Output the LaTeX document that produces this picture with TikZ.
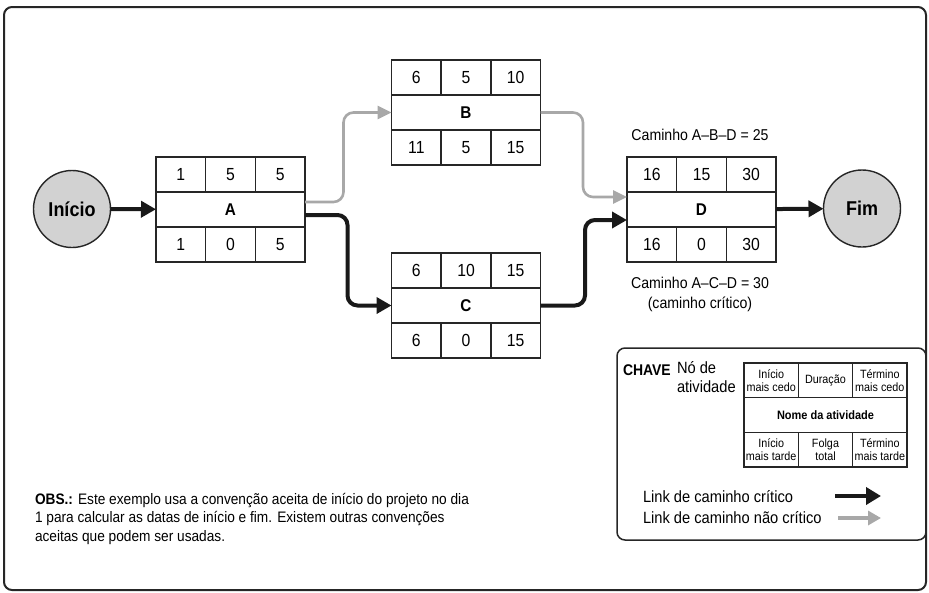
\documentclass[tikz,border=0pt]{standalone}
\usepackage{fontspec}
\setmainfont{Liberation Sans}[FakeStretch=0.9]
\usetikzlibrary{arrows.meta,calc}
\definecolor{linkgray}{HTML}{A8A8A8}
\definecolor{circfill}{HTML}{D2D2D2}
\tikzset{
  every node/.style={outer sep=0pt},
  frame/.style={draw=black!85, line width=2pt, rounded corners=8pt},
  namebox/.style={draw=black!85, line width=1.4pt, minimum width=149pt, minimum height=35pt, inner sep=0pt, font=\fontsize{17}{19}\selectfont\bfseries},
  cell/.style={draw=black!85, line width=1.4pt, minimum width=49.67pt, minimum height=35pt, inner sep=0pt, font=\fontsize{17.5}{19}\selectfont},
  endcirc/.style={circle, draw=black!85, line width=1.4pt, fill=circfill, minimum size=77pt, inner sep=0pt, font=\fontsize{20}{22}\selectfont\bfseries},
  critlink/.style={draw=black!90, line width=4pt, rounded corners=10pt, -{Triangle[length=15pt,width=16pt]}},
  noncritlink/.style={draw=linkgray, line width=2.6pt, rounded corners=10pt, -{Triangle[length=14pt,width=13pt]}},
  label/.style={inner sep=0pt, font=\fontsize{15.7}{19}\selectfont},
  keycell/.style={draw=black!85, line width=1.2pt, minimum width=54.33pt, minimum height=34.67pt, inner sep=0pt, align=center, font=\fontsize{12}{13}\selectfont},
}
\newcommand{\actnode}[8]{%
  \node[namebox] (#1) at (#2) {#1};
  \node[cell, anchor=south west] (#1t1) at (#1.north west) {#3};
  \node[cell, anchor=west] (#1t2) at (#1t1.east) {#4};
  \node[cell, anchor=west] (#1t3) at (#1t2.east) {#5};
  \node[cell, anchor=north west] (#1b1) at (#1.south west) {#6};
  \node[cell, anchor=west] (#1b2) at (#1b1.east) {#7};
  \node[cell, anchor=west] (#1b3) at (#1b2.east) {#8};
}
\begin{document}
\begin{tikzpicture}[x=1pt,y=-1pt]
\useasboundingbox (0,0) rectangle (929,592);
\draw[frame] (4,7) rectangle (926,590);

% activity nodes
\actnode{A}{230.5,209.5}{1}{5}{5}{1}{0}{5}
\actnode{B}{466,112.5}{6}{5}{10}{11}{5}{15}
\actnode{C}{466,305.5}{6}{10}{15}{6}{0}{15}
\actnode{D}{701.5,209.5}{16}{15}{30}{16}{0}{30}

\node[endcirc] (ini) at (72,209) {Início};
\node[endcirc] (fim) at (862,208.5) {Fim};

% links
\draw[critlink] (ini) -- (A);
\draw[noncritlink] ($(A.east)+(0,-7.5)$) -| ($(B.west)+(-48,0)$) -- (B.west);
\draw[critlink] ($(A.east)+(0,5.5)$) -| ($(C.west)+(-44,0)$) -- (C.west);
\draw[noncritlink] (B.east) -| ($(D.west)+(-44,-12.5)$) -- ($(D.west)+(0,-12.5)$);
\draw[critlink] (C.east) -| ($(D.west)+(-42,10.5)$) -- ($(D.west)+(0,10.5)$);
\draw[critlink] (D) -- (fim);

% path labels
\node[label] (abd) at (700,135) {Caminho A–B–D = 25};
\node[label] (acd) at (700,283) {Caminho A–C–D = 30};
\node[label] (crit) at (700,304) {(caminho crítico)};

% note
\node[anchor=north west, align=left, inner sep=0pt, font=\fontsize{15.2}{18.5}\selectfont] (obs) at (35,493)
  {\textbf{OBS.:} Este exemplo usa a convenção aceita de início do projeto no dia\\
   1 para calcular as datas de início e fim. Existem outras convenções\\
   aceitas que podem ser usadas.};

% key
\draw[frame, line width=1.5pt] (617,348) rectangle (926,540);
\node[anchor=west, inner sep=0pt, font=\fontsize{15.5}{18}\selectfont\bfseries] (chave) at (623,370) {CHAVE};
\node[anchor=north west, align=left, inner sep=0pt, font=\fontsize{16.3}{19.5}\selectfont] (node) at (677,361) {Nó de\\atividade};
\node[keycell, minimum width=163pt] (kname) at (825.5,415) {\fontsize{12.2}{13}\selectfont\bfseries Nome da atividade};
\node[keycell, anchor=south west] (kt1) at (kname.north west) {Início\\mais cedo};
\node[keycell, anchor=west] (kt2) at (kt1.east) {Duração};
\node[keycell, anchor=west] (kt3) at (kt2.east) {Término\\mais cedo};
\node[keycell, anchor=north west] (kb1) at (kname.south west) {Início\\mais tarde};
\node[keycell, anchor=west] (kb2) at (kb1.east) {Folga\\total};
\node[keycell, anchor=west] (kb3) at (kb2.east) {Término\\mais tarde};

\node[anchor=west, label, font=\fontsize{16.3}{19}\selectfont] (lcrit) at (643,497) {Link de caminho crítico};
\node[anchor=west, label, font=\fontsize{16.3}{19}\selectfont] (lnon) at (643,518) {Link de caminho não crítico};
\coordinate (lc1) at (835,496);
\coordinate (lc2) at (881,496);
\coordinate (ln1) at (838,518);
\coordinate (ln2) at (881,518);
\draw[critlink, line width=4.5pt, -{Triangle[length=15pt,width=17pt]}] (lc1) -- (lc2);
\draw[noncritlink, line width=3.5pt, -{Triangle[length=13pt,width=14pt]}] (ln1) -- (ln2);
\end{tikzpicture}
\end{document}
